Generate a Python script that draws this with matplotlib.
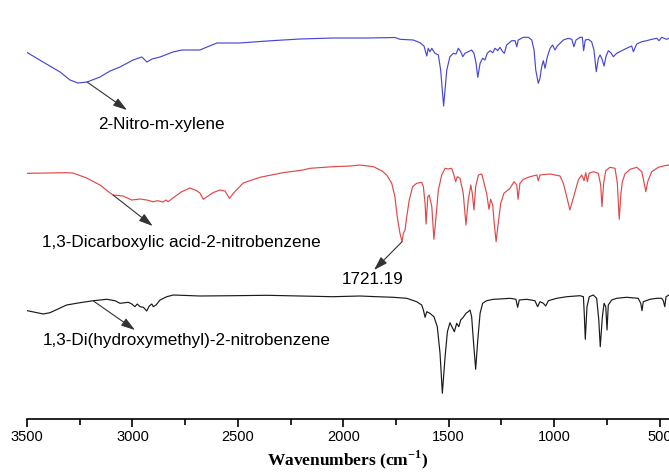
import matplotlib
matplotlib.use("Agg")
import matplotlib.pyplot as plt
import numpy as np

# ---- data (wavenumber cm-1, relative transmittance a.u.) ----
nitro_w = [3498, 3424, 3343, 3296, 3258, 3215, 3154, 3106, 3059, 2997, 2955, 2931, 2907, 2869,
           2808, 2765, 2680, 2646, 2599, 2490, 2362, 2205, 2049, 1883, 1755, 1731, 1668, 1636,
           1617, 1604, 1597, 1589, 1580, 1565, 1549, 1538, 1524, 1509, 1494, 1478, 1465, 1454,
           1443, 1433, 1423, 1407, 1391, 1380, 1370, 1362, 1351, 1339, 1328, 1317, 1304, 1291,
           1280, 1267, 1257, 1244, 1236, 1225, 1201, 1185, 1177, 1170, 1146, 1122, 1106, 1095,
           1087, 1075, 1067, 1059, 1051, 1043, 1032, 1019, 1007, 996, 985, 972, 956, 933, 916,
           906, 896, 877, 866, 860, 852, 838, 822, 811, 800, 790, 782, 774, 763, 754, 743, 731,
           719, 703, 679, 656, 632, 624, 608, 584, 561, 537, 513, 502, 490, 466, 455]
nitro_t = [366.3, 357, 347, 339, 336, 337, 342, 348, 352, 359, 362, 357, 360, 362,
           367, 369, 369, 372, 376, 376, 378, 380, 381, 381, 381.5, 379.7, 379, 376.3,
           373, 363, 370.7, 367.3, 370.7, 365.7, 364, 349, 313, 349, 362.3, 365.7, 365, 370.7,
           367.3, 362.3, 365.7, 367.3, 369, 365.7, 355.7, 341.7, 355.7, 360.7, 359, 365.7, 368.3, 366.3,
           370.7, 368.3, 371.7, 367.3, 365.7, 374, 378.3, 378.3, 372.3, 379, 381.7, 381.7, 379, 369,
           349, 335.7, 340.7, 352.3, 358.3, 350.7, 362.3, 370.7, 374, 369, 373, 375.7, 379, 380.7, 379.7,
           372.3, 379, 381.7, 381.7, 368.3, 379, 379.7, 377.3, 369, 347.3, 360.7, 364, 360.7, 353, 362.3, 368.3, 366.3,
           362.3, 365.7, 368.3, 370.7, 373, 367.3, 375, 377.3, 378.3, 379.7, 380.7, 378.3, 381.7, 379.7, 380.7]

acid_w = [3498, 3312, 3282, 3217, 3154, 3106, 3092, 3045, 3003, 2964, 2932, 2902, 2879, 2855,
          2841, 2831, 2808, 2766, 2727, 2695, 2680, 2664, 2641, 2618, 2585, 2561, 2540, 2521,
          2475, 2395, 2286, 2191, 2158, 2049, 1968, 1921, 1857, 1818, 1794, 1770, 1755, 1744,
          1731, 1721, 1715, 1707, 1699, 1687, 1671, 1652, 1628, 1620, 1612, 1607, 1599, 1592,
          1580, 1570, 1560, 1549, 1533, 1517, 1502, 1486, 1475, 1467, 1459, 1446, 1431, 1418,
          1407, 1395, 1388, 1380, 1372, 1359, 1343, 1332, 1320, 1309, 1301, 1291, 1284, 1275,
          1265, 1253, 1238, 1209, 1190, 1177, 1171, 1162, 1146, 1114, 1082, 1075, 1067, 1019,
          972, 956, 940, 925, 909, 885, 869, 858, 850, 842, 834, 814, 790, 779, 773, 765, 755,
          735, 711, 700, 691, 683, 676, 664, 640, 608, 584, 574, 565, 556, 537, 506, 482, 455]
acid_t = [245.7, 246.3, 246, 241, 234, 226, 224, 223, 219, 220, 219, 217.3, 218.3, 217,
          219, 217.3, 221, 227.3, 231, 228.3, 226, 219.7, 223, 226.3, 229, 228, 220.7, 225.7,
          236, 241.7, 246.3, 249, 250.7, 252.3, 253, 254, 252.3, 248.3, 244, 235.7, 222.3, 202.3,
          185.7, 177.3, 185.7, 189, 202.3, 219, 232.3, 235.7, 236.7, 232.3, 215.7, 195, 222.3, 224,
          212.3, 179.7, 202.3, 229, 244, 250.7, 250, 250.7, 244, 237.3, 242.3, 240.7, 225.7, 194,
          219, 234, 225.7, 209, 232.3, 244, 245, 235.7, 225.7, 209.7, 219.7, 214, 195.7, 177.3,
          195.7, 215.7, 225.7, 230.7, 237.3, 234, 219.7, 235.7, 239.7, 242.3, 244, 238.3, 244, 245,
          243, 235.7, 222.3, 209, 220.7, 239, 244, 238.3, 246.3, 237.3, 245.7, 247.3, 245.7, 234, 212.3, 235.7, 248.3,
          251.7, 250.7, 235.7, 199.7, 225.7, 237.3, 245, 249.7, 251.7, 247.3, 237.3, 227.3, 237.3, 247.3, 251.7, 253, 254]

diol_w = [3498, 3423, 3391, 3312, 3249, 3185, 3122, 3083, 3059, 3035, 3019, 3003, 2988, 2977,
          2964, 2948, 2932, 2920, 2908, 2901, 2888, 2869, 2837, 2806, 2680, 2521, 2363, 2205,
          2049, 1921, 1841, 1763, 1699, 1652, 1628, 1620, 1612, 1604, 1589, 1570, 1554, 1541,
          1530, 1517, 1506, 1494, 1481, 1473, 1462, 1452, 1443, 1431, 1418, 1407, 1399, 1391,
          1383, 1372, 1362, 1351, 1339, 1320, 1288, 1257, 1209, 1181, 1173, 1165, 1130, 1091,
          1078, 1067, 1051, 1040, 1027, 988, 940, 877, 861, 857, 852, 844, 833, 814, 798, 788,
          781, 771, 763, 755, 749, 743, 727, 703, 656, 601, 589, 583, 577, 545, 513, 490, 482,
          475, 469, 455]
diol_t = [108.3, 105, 106.3, 114, 116.3, 118.3, 119.7, 118.3, 115.7, 116.3, 116.7, 115, 112.3, 115,
          112.3, 111.7, 108, 113, 115, 112.3, 114, 119, 122.3, 124, 123, 123.3, 123.7, 123,
          122.3, 123, 122.3, 121.7, 120.7, 117.3, 114, 109, 101.7, 107.3, 105.7, 102.3, 92.3, 65.7,
          25.7, 62.3, 87.3, 96.3, 90.7, 87.3, 95.7, 92.3, 99, 101.7, 105.7, 107.3, 109, 102.3,
          79, 49.7, 79, 105.7, 115.7, 118.3, 119.7, 120, 120.7, 119.7, 111.7, 119, 119.7, 118.3,
          112.3, 117.3, 115.7, 113, 118.3, 120.7, 122.3, 123.3, 122.3, 105.7, 79.7, 112.3, 122.3, 124, 120.7, 99,
          72.3, 102.3, 115.7, 112.3, 89, 114, 119, 120.7, 121.7, 120.7, 115.7, 108.3, 117.3, 119.7, 120.7, 120.7, 118.3,
          112.3, 122.3, 124]

labels = ["2-Nitro-m-xylene", "1,3-Dicarboxylic acid-2-nitrobenzene",
          "1,3-Di(hydroxymethyl)-2-nitrobenzene"]
peak_label = "1721.19"
peak_w, peak_t = 1721, 177.3
xticks = [3500, 3000, 2500, 2000, 1500, 1000, 500]

# ---- styling ----
plt.rcParams['font.family'] = ['Liberation Sans', 'DejaVu Sans']
plt.rcParams['mathtext.fontset'] = 'custom'
plt.rcParams['mathtext.bf'] = 'Liberation Serif:bold'
plt.rcParams['mathtext.rm'] = 'Liberation Serif'

fig = plt.figure(figsize=(6.69, 4.75), dpi=100)
ax = fig.add_axes([27/669, 1 - 419/475, 1 - 27/669, 419/475])

ax.plot(nitro_w, nitro_t, color='#4747d6', lw=0.85)
ax.plot(acid_w, acid_t, color='#e04848', lw=0.85)
ax.plot(diol_w, diol_t, color='#1a1a1a', lw=0.85)

ax.set_xlim(3500, 455)
ax.set_ylim(0, 419)

for s in ['top', 'left', 'right']:
    ax.spines[s].set_visible(False)
ax.spines['bottom'].set_linewidth(1.2)
ax.set_yticks([])
ax.set_xticks(xticks)
ax.set_xticks(np.arange(3250, 455, -500), minor=True)
ax.tick_params(axis='x', which='major', direction='out', length=6, width=1.2,
               labelsize=10.5, pad=2)
ax.tick_params(axis='x', which='minor', direction='out', length=4, width=1.2)
ax.set_xlabel(r'Wavenumbers (cm$^{\mathbf{-1}}$)', fontfamily='Liberation Serif',
              fontweight='bold', fontsize=12.5, labelpad=3)

arrow = dict(arrowstyle='-|>,head_length=0.7,head_width=0.22', color='#333333',
             lw=0.8, shrinkA=0, shrinkB=0, mutation_scale=12)
fs = 12.3
ax.annotate('', xy=(3026, 309), xytext=(3215, 337), arrowprops=arrow)
ax.text(3163, 294, labels[0], fontsize=fs, ha='left', va='center')
ax.annotate('', xy=(2904, 193), xytext=(3092, 224), arrowprops=arrow)
ax.text(3430, 177, labels[1], fontsize=fs, ha='left', va='center')
ax.annotate('', xy=(1854, 149), xytext=(peak_w, peak_t), arrowprops=arrow)
ax.text(2007, 140, peak_label, fontsize=fs, ha='left', va='center')
ax.annotate('', xy=(2988, 89), xytext=(3185, 118), arrowprops=arrow)
ax.text(3425, 79, labels[2], fontsize=fs, ha='left', va='center')

fig.savefig('out.png', dpi=100)
